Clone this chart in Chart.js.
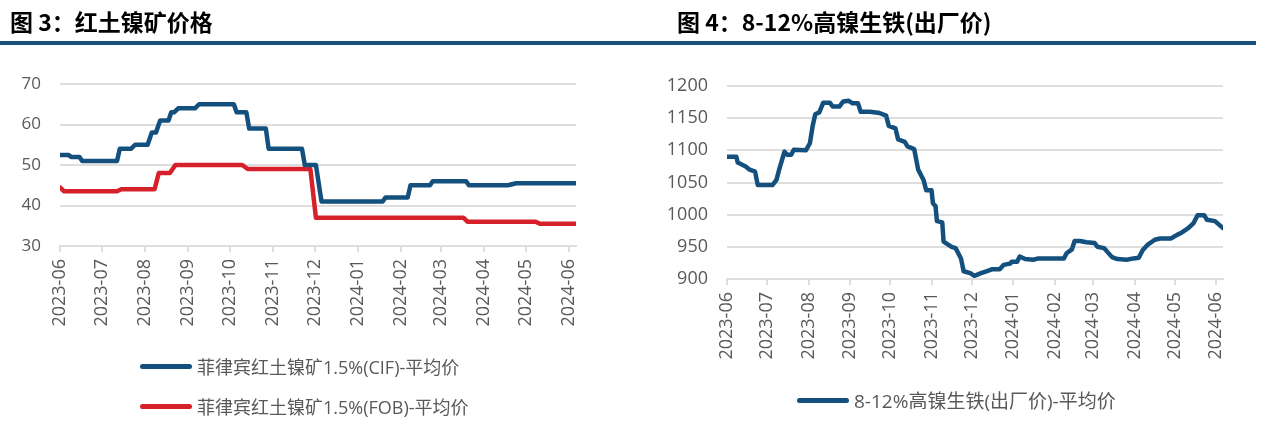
<!DOCTYPE html>
<html>
<head>
<meta charset="utf-8">
<script src="https://cdn.jsdelivr.net/npm/chart.js@4.4.0/dist/chart.umd.min.js"></script>
<style>
  body { margin: 0; width: 1287px; height: 447px; background: #fff; position: relative; overflow: hidden;
         font-family: 'Open Sans', 'Noto Sans CJK SC', sans-serif; }
  canvas { position: absolute; top: 0; }
  .title { position: absolute; top: 4px; font-family: 'Noto Sans CJK SC', sans-serif; font-weight: 700;
           font-size: 23px; color: #000; z-index: 2; }
  .rule { position: absolute; left: 0; top: 41px; width: 1256px; height: 4px; background: #17507c; }
  .legend { position: absolute; z-index: 2; color: #595959; font-family: 'Open Sans', 'Noto Sans CJK SC', sans-serif; }
  .legend div { height: 40px; display: flex; align-items: center; }
  .legend span.bar { display: inline-block; width: 52px; height: 5px; border-radius: 3px; margin-right: 5px; }
</style>
</head>
<body>
<div class="title" style="left:10px">图 3：红土镍矿价格</div>
<div class="title" style="left:677px">图 4：8-12%高镍生铁(出厂价)</div>
<div class="rule"></div>

<canvas id="oreChart" width="640" height="447" style="left:0"></canvas>
<canvas id="npiChart" width="647" height="447" style="left:640px"></canvas>

<div class="legend" id="oreLegend" style="left:140px; top:346px; font-size:18px;"></div>
<div class="legend" id="npiLegend" style="left:797px; top:380px; font-size:19px;"></div>

<script>
// month labels on the date axis
const monthTicks = ["2023-06", "2023-07", "2023-08", "2023-09", "2023-10", "2023-11", "2023-12",
  "2024-01", "2024-02", "2024-03", "2024-04", "2024-05", "2024-06"];

// 菲律宾红土镍矿1.5%(CIF)-平均价
const cifDates = ["2023-06-01", "2023-06-07", "2023-06-09", "2023-06-15", "2023-06-17", "2023-07-12", "2023-07-14",
  "2023-07-22", "2023-07-25", "2023-08-03", "2023-08-06", "2023-08-09", "2023-08-12", "2023-08-18", "2023-08-20",
  "2023-08-22", "2023-08-25", "2023-09-06", "2023-09-09", "2023-10-04", "2023-10-06", "2023-10-13", "2023-10-15",
  "2023-10-27", "2023-10-29", "2023-11-22", "2023-11-24", "2023-12-02", "2023-12-06", "2024-01-19", "2024-01-21",
  "2024-02-06", "2024-02-08", "2024-02-22", "2024-02-24", "2024-03-19", "2024-03-21", "2024-04-18", "2024-04-24",
  "2024-06-06"];
const cifValues = [52.5, 52.5, 52, 52, 51, 51, 54, 54, 55, 55, 58, 58, 61, 61, 63, 63, 64, 64, 65, 65, 63, 63, 59,
  59, 54, 54, 50, 50, 41, 41, 42, 42, 45, 45, 46, 46, 45, 45, 45.5, 45.5];

// 菲律宾红土镍矿1.5%(FOB)-平均价
const fobDates = ["2023-06-01", "2023-06-04", "2023-07-12", "2023-07-15", "2023-08-08", "2023-08-11", "2023-08-19",
  "2023-08-23", "2023-10-10", "2023-10-14", "2023-11-28", "2023-12-02", "2024-03-17", "2024-03-20", "2024-05-08",
  "2024-05-11", "2024-06-06"];
const fobValues = [44.5, 43.5, 43.5, 44, 44, 48, 48, 50, 50, 49, 49, 37, 37, 36, 36, 35.5, 35.5];

// 8-12%高镍生铁(出厂价)-平均价
const npiDates = ["2023-06-01", "2023-06-08", "2023-06-09", "2023-06-15", "2023-06-18", "2023-06-22", "2023-06-24",
  "2023-07-05", "2023-07-08", "2023-07-10", "2023-07-14", "2023-07-16", "2023-07-19", "2023-07-21", "2023-07-30",
  "2023-08-02", "2023-08-04", "2023-08-06", "2023-08-09", "2023-08-12", "2023-08-17", "2023-08-19", "2023-08-24",
  "2023-08-27", "2023-08-31", "2023-09-03", "2023-09-07", "2023-09-09", "2023-09-16", "2023-09-23", "2023-09-28",
  "2023-09-30", "2023-10-05", "2023-10-07", "2023-10-12", "2023-10-14", "2023-10-19", "2023-10-22", "2023-10-26",
  "2023-10-28", "2023-11-01", "2023-11-02", "2023-11-04", "2023-11-05", "2023-11-09", "2023-11-10", "2023-11-16",
  "2023-11-19", "2023-11-21", "2023-11-23", "2023-11-25", "2023-11-30", "2023-12-03", "2023-12-08", "2023-12-12",
  "2023-12-16", "2023-12-22", "2023-12-25", "2023-12-30", "2023-12-31", "2024-01-04", "2024-01-06", "2024-01-10",
  "2024-01-16", "2024-01-20", "2024-02-08", "2024-02-10", "2024-02-14", "2024-02-16", "2024-02-20", "2024-02-25",
  "2024-03-02", "2024-03-04", "2024-03-09", "2024-03-12", "2024-03-15", "2024-03-19", "2024-03-26", "2024-03-31",
  "2024-04-04", "2024-04-07", "2024-04-11", "2024-04-16", "2024-04-20", "2024-04-28", "2024-05-03", "2024-05-06",
  "2024-05-11", "2024-05-15", "2024-05-18", "2024-05-23", "2024-05-25", "2024-05-31", "2024-06-06"];
const npiValues = [1090, 1090, 1081, 1075, 1070, 1067, 1046, 1046, 1054, 1070, 1098, 1093, 1093, 1101, 1100,
  1111, 1137, 1156, 1159, 1174, 1174, 1168, 1168, 1176, 1177, 1173, 1173, 1160, 1160, 1158, 1154, 1138, 1134,
  1117, 1113, 1106, 1102, 1070, 1054, 1038, 1038, 1018, 1013, 990, 988, 958, 950, 948, 940, 932, 912, 909, 905,
  909, 912, 915, 915, 922, 924, 927, 927, 935, 931, 930, 932, 932, 940, 946, 959, 959, 957, 956, 950, 948, 941,
  934, 931, 930, 932, 933, 945, 954, 961, 963, 963, 969, 972, 979, 987, 999, 999, 992, 990, 979];

const BLUE = "#14507d";
const RED = "#d6202a";
const TEXT = "#595959";
const GRID = "#dedede";
const FONT = "'Open Sans', 'Noto Sans CJK SC', sans-serif";

const start = Date.parse("2023-06-01");
function dayOf(s) {
  return Math.round((Date.parse(s) - start) / 86400000);
}
function toPoints(dates, values) {
  return dates.map((d, i) => ({ x: dayOf(d), y: values[i] }));
}
const monthDays = monthTicks.map(m => dayOf(m + "-01"));
const lastDay = dayOf("2024-06-06");

function lineSet(label, color, points) {
  return {
    label: label,
    data: points,
    borderColor: color,
    backgroundColor: color,
    borderWidth: 4.5,
    pointRadius: 0,
    tension: 0,
    borderCapStyle: "round",
    borderJoinStyle: "round"
  };
}

function makeOptions(ymin, ymax, step, yWidth, ySize, xSize, pad) {
  return {
    responsive: false,
    animation: false,
    layout: { padding: pad },
    plugins: { legend: { display: false }, tooltip: { enabled: false } },
    scales: {
      x: {
        type: "linear",
        min: 0,
        max: lastDay,
        afterBuildTicks: s => { s.ticks = monthDays.map(v => ({ value: v })); },
        afterFit: s => { s.height = 120; },
        ticks: {
          autoSkip: false,
          minRotation: 90,
          maxRotation: 90,
          padding: 7,
          color: TEXT,
          font: { family: FONT, size: xSize },
          callback: (v, i) => monthTicks[i]
        },
        grid: { drawOnChartArea: false, drawTicks: true, tickLength: 6, color: GRID, lineWidth: 2 },
        border: { display: true, color: GRID, width: 2 }
      },
      y: {
        min: ymin,
        max: ymax,
        afterFit: s => { s.width = yWidth; },
        ticks: {
          stepSize: step,
          padding: 19,
          color: TEXT,
          font: { family: FONT, size: ySize },
          callback: v => String(v)
        },
        grid: { color: GRID, lineWidth: 2, drawTicks: false },
        border: { display: false }
      }
    }
  };
}

const oreChart = new Chart(document.getElementById("oreChart"), {
  type: "line",
  data: {
    datasets: [
      lineSet("菲律宾红土镍矿1.5%(CIF)-平均价", BLUE, toPoints(cifDates, cifValues)),
      lineSet("菲律宾红土镍矿1.5%(FOB)-平均价", RED, toPoints(fobDates, fobValues))
    ]
  },
  options: makeOptions(30, 70, 10, 60, 17, 18, { top: 84, right: 64, bottom: 81, left: 0 })
});

const npiChart = new Chart(document.getElementById("npiChart"), {
  type: "line",
  data: {
    datasets: [
      lineSet("8-12%高镍生铁(出厂价)-平均价", BLUE, toPoints(npiDates, npiValues))
    ]
  },
  options: makeOptions(900, 1200, 50, 87, 18, 18, { top: 86, right: 64, bottom: 48, left: 0 })
});

// html legends from the chart datasets
function buildLegend(chart, id) {
  const box = document.getElementById(id);
  chart.data.datasets.forEach(ds => {
    const row = document.createElement("div");
    const bar = document.createElement("span");
    bar.className = "bar";
    bar.style.background = ds.borderColor;
    row.appendChild(bar);
    row.appendChild(document.createTextNode(ds.label));
    box.appendChild(row);
  });
}
buildLegend(oreChart, "oreLegend");
buildLegend(npiChart, "npiLegend");
</script>
</body>
</html>
